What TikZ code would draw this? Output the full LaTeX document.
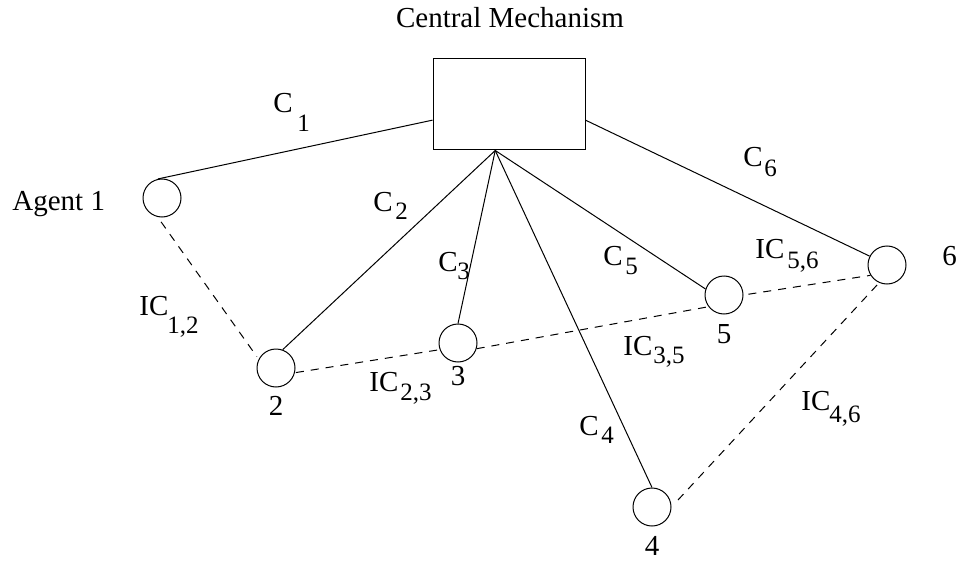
\documentclass[tikz,border=0pt]{standalone}
\usepackage{fontspec}
\setmainfont{Liberation Serif}
\usetikzlibrary{calc}
\newcommand{\mainsz}{\fontsize{14.5}{17}\selectfont}
\newcommand{\subsz}{\fontsize{12.5}{15}\selectfont}
\newcommand{\sublab}[4]{\makebox[0pt][l]{#1}\hspace*{#3}\raisebox{-#4}{\subsz #2}}
\tikzset{
  agent/.style={circle,draw,line width=0.5pt,minimum size=19pt,inner sep=0pt},
  mechbox/.style={rectangle,draw,line width=0.5pt,minimum width=76pt,minimum height=45.5pt,inner sep=0pt},
  lbl/.style={inner sep=0pt,anchor=base west,font=\mainsz},
  numlbl/.style={inner sep=0pt,anchor=base,font=\mainsz},
  conn/.style={line width=0.5pt},
  icconn/.style={line width=0.5pt,dash pattern=on 4pt off 3.5pt}
}
\begin{document}
\begin{tikzpicture}[x=0.5pt,y=-0.5pt]
\useasboundingbox (0,0) rectangle (962,561);
% mechanism
\node[mechbox] (mech) at (509,104.5) {};
\node[numlbl] (title) at (510,28) {Central Mechanism};
\coordinate (hub) at ($(mech.south west)!0.41!(mech.south east)$);
\coordinate (c1start) at ($(mech.south west)!0.33!(mech.north west)$);
\coordinate (c6start) at ($(mech.south east)!0.33!(mech.north east)$);
% agents
\node[agent] (c1) at (162,198) {};
\node[agent] (c2) at (276,368) {};
\node[agent] (c3) at (458,343) {};
\node[agent] (c4) at (652,507) {};
\node[agent] (c5) at (724,295) {};
\node[agent] (c6) at (887,265) {};
% connections
\draw[conn] (c1start) -- (c1.102);
\draw[conn] (hub) -- (c2.70);
\draw[conn] (hub) -- (c3.north);
\draw[conn] (hub) -- (c4.north);
\draw[conn] (hub) -- (c5.162);
\draw[conn] (c6start) -- (c6.153);
% inter-agent
\draw[icconn,shorten <=3pt,shorten >=1.5pt] (c1.-103) -- (c2.153);
\draw[icconn,shorten <=0.5pt] (c2.-14) -- (c3.-160);
\draw[icconn] (c3.-17) -- (c5.-143);
\draw[icconn,shorten <=2.5pt] (c5.0) -- (c6.-148);
\draw[icconn,shorten <=1.5pt,shorten >=2.5pt] (c6.-114) -- (c4.0);
% agent labels
\node[lbl] (l1) at (12,211) {Agent 1};
\node[numlbl] (l2) at (276,415) {2};
\node[numlbl] (l3) at (458,385) {3};
\node[numlbl] (l4) at (652,555) {4};
\node[numlbl] (l5) at (724,343) {5};
\node[lbl] (l6) at (942,265) {6};
% connection labels
\node[lbl] (tc1) at (273,113) {\sublab{C}{1}{12pt}{9.5pt}};
\node[lbl] (tc2) at (373,212) {\sublab{C}{2}{11pt}{4pt}};
\node[lbl] (tc3) at (438,271) {\sublab{C}{3}{9.5pt}{4pt}};
\node[lbl] (tc4) at (579,435) {\sublab{C}{4}{11pt}{4pt}};
\node[lbl] (tc5) at (603,265) {\sublab{C}{5}{11pt}{4.5pt}};
\node[lbl] (tc6) at (743,167) {\sublab{C}{6}{10.5pt}{5pt}};
\node[lbl] (ic12) at (139,315) {\sublab{IC}{1,2}{14pt}{9pt}};
\node[lbl] (ic23) at (369,391) {\sublab{IC}{2,3}{15.5pt}{4.5pt}};
\node[lbl] (ic35) at (623,355) {\sublab{IC}{3,5}{15pt}{4pt}};
\node[lbl] (ic56) at (755,258) {\sublab{IC}{5,6}{16pt}{5pt}};
\node[lbl] (ic46) at (801,410) {\sublab{IC}{4,6}{14pt}{6pt}};
\end{tikzpicture}
\end{document}
